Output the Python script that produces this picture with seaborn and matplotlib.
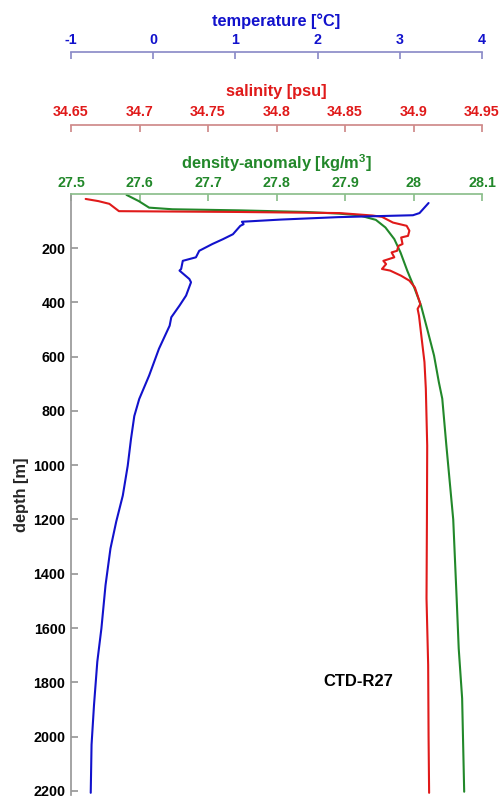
import matplotlib
matplotlib.use("Agg")
import matplotlib.pyplot as plt
import seaborn as sns

# CTD-R27 profile, values
temp_depth = [34, 71, 79, 86, 95, 103, 112, 118, 149, 167, 185, 210, 234, 247, 277, 283,
              314, 326, 375, 412, 455, 486, 571, 670, 756, 819, 903, 1002, 1112, 1208,
              1307, 1442, 1601, 1724, 1883, 2030, 2207]
temp_vals = [3.35, 3.24, 3.16, 2.25, 1.55, 1.08, 1.10, 1.06, 0.97, 0.85, 0.72, 0.56, 0.52,
             0.36, 0.34, 0.32, 0.44, 0.46, 0.40, 0.32, 0.22, 0.20, 0.07, -0.05, -0.17,
             -0.23, -0.27, -0.31, -0.37, -0.45, -0.52, -0.58, -0.63, -0.68, -0.72,
             -0.75, -0.76]

sal_depth = [19, 27, 37, 64, 67, 71, 80, 85, 106, 118, 136, 155, 161, 185, 192, 210, 216,
             234, 247, 259, 277, 283, 302, 320, 345, 375, 406, 424, 449, 535, 620, 718,
             928, 1200, 1491, 1736, 2000, 2207]
sal_vals = [34.6607, 34.670, 34.678, 34.685, 34.773, 34.846, 34.870, 34.877, 34.885,
            34.895, 34.897, 34.896, 34.891, 34.892, 34.889, 34.888, 34.884, 34.886,
            34.878, 34.880, 34.877, 34.883, 34.891, 34.897, 34.901, 34.903, 34.905,
            34.903, 34.904, 34.906, 34.908, 34.909, 34.910, 34.9098, 34.9095, 34.9107,
            34.911, 34.9114]

dens_depth = [4, 27, 51, 57, 61, 67, 73, 79, 96, 124, 167, 216, 284, 345, 412, 498, 596,
              694, 755, 928, 1200, 1491, 1675, 1859, 2203]
dens_vals = [27.581, 27.599, 27.614, 27.648, 27.745, 27.843, 27.891, 27.920, 27.945,
             27.959, 27.972, 27.981, 27.991, 28.001, 28.011, 28.020, 28.030, 28.037,
             28.042, 28.048, 28.058, 28.063, 28.066, 28.071, 28.074]

depth_ticks = list(range(200, 2201, 200))
temp_ticks = [-1, 0, 1, 2, 3, 4]
sal_ticks = [34.65, 34.7, 34.75, 34.8, 34.85, 34.9, 34.95]
sal_labels = ['34.65', '34.7', '34.75', '34.8', '34.85', '34.9', '34.95']
dens_ticks = [27.5, 27.6, 27.7, 27.8, 27.9, 28, 28.1]
dens_labels = ['27.5', '27.6', '27.7', '27.8', '27.9', '28', '28.1']

sns.set_theme(style="white")
plt.rcParams['font.family'] = ['Liberation Sans', 'DejaVu Sans']
plt.rcParams['font.weight'] = 'bold'
plt.rcParams['axes.labelweight'] = 'bold'
plt.rcParams['axes.unicode_minus'] = False
plt.rcParams['mathtext.fontset'] = 'custom'
plt.rcParams['mathtext.rm'] = 'Liberation Sans:bold'
plt.rcParams['mathtext.bf'] = 'Liberation Sans:bold'
plt.rcParams['mathtext.default'] = 'bf'

blue, red, green = '#1212cc', '#e01a1a', '#22882a'
fs_tick = 10.3
fs_lab = 11.8

fig = plt.figure(figsize=(5.03, 8.01), dpi=100)
ax = fig.add_axes([71 / 503, 0.0075, 411 / 503, 601.2 / 801])
# twins first: twiny() moves the host's ticks to the bottom
ax_s = ax.twiny()
ax_t = ax.twiny()

# density on main axes (top axis)
sns.lineplot(x=dens_vals, y=dens_depth, sort=False, estimator=None, color=green, lw=1.5, ax=ax)
ax.set_xlim(27.5, 28.1)
ax.set_ylim(2215, 0)
ax.xaxis.tick_top()
ax.xaxis.set_label_position('top')
ax.set_xticks(dens_ticks)
ax.set_xticklabels(dens_labels)
ax.set_yticks(depth_ticks)
ax.set_xlabel('density-anomaly [kg/m$^3$]', color=green, fontsize=fs_lab, labelpad=5)
ax.set_ylabel('depth [m]', fontsize=fs_lab, labelpad=3)
ax.tick_params(axis='x', direction='in', length=5, pad=2.5, colors='#8cbf8c',
               labelcolor=green, labelsize=fs_tick, top=True, bottom=False,
               labeltop=True, labelbottom=False)
ax.tick_params(axis='y', direction='in', length=5, pad=4, colors='#999999',
               labelcolor='black', labelsize=fs_tick, left=True)
ax.spines['top'].set_color('#8cbf8c')
ax.spines['left'].set_color('#999999')
ax.spines['right'].set_visible(False)
ax.spines['bottom'].set_visible(False)
ax.grid(False)

# salinity
sns.lineplot(x=sal_vals, y=sal_depth, sort=False, estimator=None, color=red, lw=1.5, ax=ax_s)
ax_s.set_xlim(34.65, 34.95)
ax_s.set_xticks(sal_ticks)
ax_s.set_xticklabels(sal_labels)
ax_s.spines['top'].set_position(('outward', 49.5))
ax_s.set_xlabel('salinity [psu]', color=red, fontsize=fs_lab, labelpad=6)

# temperature
sns.lineplot(x=temp_vals, y=temp_depth, sort=False, estimator=None, color=blue, lw=1.5, ax=ax_t)
ax_t.set_xlim(-1, 4)
ax_t.set_xticks(temp_ticks)
ax_t.spines['top'].set_position(('outward', 102))
ax_t.set_xlabel('temperature [°C]', color=blue, fontsize=fs_lab, labelpad=5)

for a, spc, lc, pd in [(ax_s, '#cf8a8a', red, 4.5), (ax_t, '#8c8cc8', blue, 3.5)]:
    for side in ['left', 'right', 'bottom']:
        a.spines[side].set_visible(False)
    a.spines['top'].set_color(spc)
    a.tick_params(axis='x', direction='in', length=5, pad=pd, colors=spc,
                  labelcolor=lc, labelsize=fs_tick, top=True, bottom=False,
                  labeltop=True, labelbottom=False)
    a.tick_params(axis='y', left=False, right=False, labelleft=False, labelright=False)
    a.set_ylim(2215, 0)
    a.grid(False)

ax.text(0.698, 0.189, 'CTD-R27', transform=ax.transAxes, ha='center', va='center',
        fontsize=12, fontweight='bold', color='black')

fig.savefig('out.png', dpi=100)
